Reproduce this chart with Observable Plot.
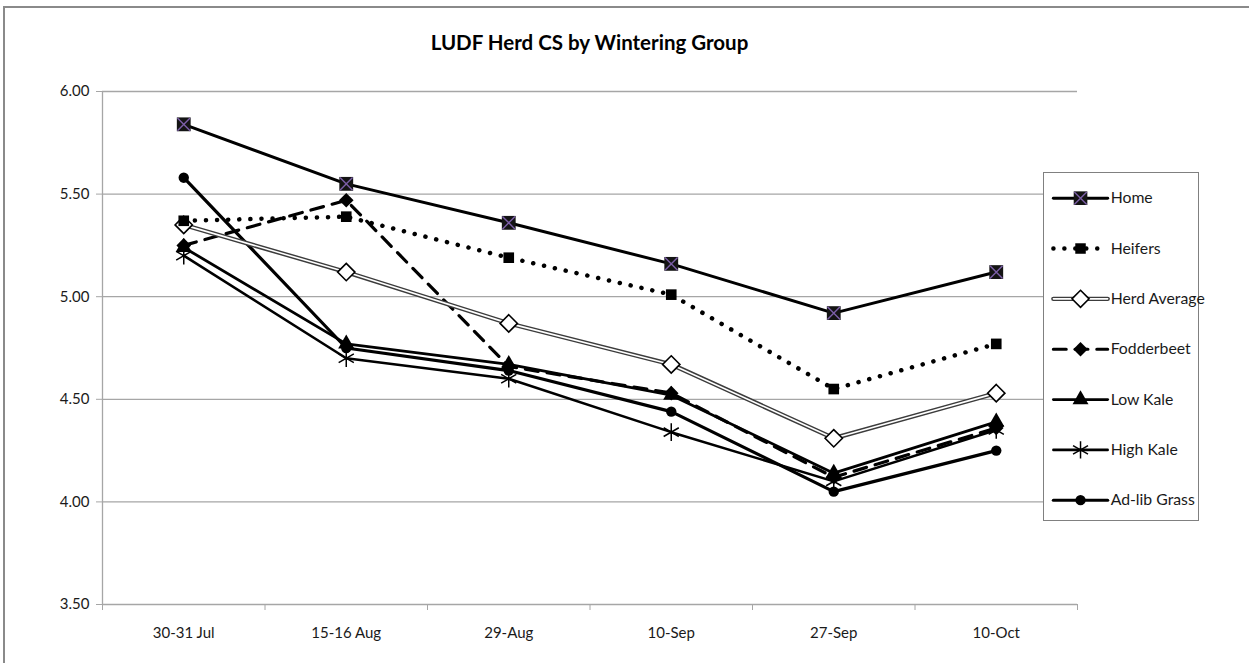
<!DOCTYPE html>
<html>
<head>
<meta charset="utf-8">
<script src="https://cdn.jsdelivr.net/npm/d3@7"></script>
<script src="https://cdn.jsdelivr.net/npm/@observablehq/plot@0.6"></script>
<style>
  html, body { margin: 0; padding: 0; background: #fff; }
  #wrap { position: relative; width: 1249px; height: 663px; overflow: hidden; font-family: Lato, "Open Sans", sans-serif; }
  #frame { position: absolute; left: 3px; top: 6px; width: 1400px; height: 800px; border-left: 2px solid #8a8a8a; border-top: 2px solid #8a8a8a; box-sizing: border-box; }
  #title { position: absolute; left: 0; width: 1179px; top: 30px; text-align: center; font-weight: bold; font-size: 20.5px; color: #000; }
  #chart { position: absolute; left: 0; top: 0; }
  #legend { position: absolute; left: 1043px; top: 172px; width: 156px; height: 349px; border: 1px solid #808080; box-sizing: border-box; background: #fff; }
  #legend svg { overflow: visible; }
</style>
</head>
<body>
<div id="wrap">
  <div id="frame"></div>
  <div id="chart"></div>
  <div id="title">LUDF Herd CS by Wintering Group</div>
  <div id="legend"></div>
</div>
<script>
// ---- data ----
const dates = ["30-31 Jul", "15-16 Aug", "29-Aug", "10-Sep", "27-Sep", "10-Oct"];
const seriesNames = ["Home", "Heifers", "Herd Average", "Fodderbeet", "Low Kale", "High Kale", "Ad-lib Grass"];
const home        = [5.84, 5.55, 5.36, 5.16, 4.92, 5.12];
const heifers     = [5.37, 5.39, 5.19, 5.01, 4.55, 4.77];
const herdAverage = [5.35, 5.12, 4.87, 4.67, 4.31, 4.53];
const fodderbeet  = [5.25, 5.47, 4.66, 4.53, 4.12, 4.36];
const lowKale     = [5.24, 4.77, 4.67, 4.52, 4.14, 4.39];
const highKale    = [5.20, 4.70, 4.60, 4.34, 4.10, 4.35];
const adlibGrass  = [5.58, 4.75, 4.64, 4.44, 4.05, 4.25];
const yTicks = [3.5, 4.0, 4.5, 5.0, 5.5, 6.0];

const seriesValues = {
  "Home": home, "Heifers": heifers, "Herd Average": herdAverage, "Fodderbeet": fodderbeet,
  "Low Kale": lowKale, "High Kale": highKale, "Ad-lib Grass": adlibGrass
};

const rows = seriesNames.flatMap(name => seriesValues[name].map((value, i) => ({series: name, i, date: dates[i], value})));
const idx = dates.map((d, i) => i);
const boundaries = [...idx.map(i => i - 0.5), dates.length - 0.5];

// ---- per-series styling ----
function seriesMarks(name, data, x, y, markerData) {
  const md = markerData || data;
  const k = "#000";
  switch (name) {
    case "Home": return [
      Plot.line(data, {x, y, stroke: k, strokeWidth: 3}),
      Plot.dot(md, {x, y, symbol: "square", r: 7.8, fill: "#141414", stroke: "none"}),
      Plot.dot(md, {x, y, symbol: "times", r: 5.8, stroke: "#7b5ea7", strokeWidth: 1.4})
    ];
    case "Heifers": return [
      Plot.line(data, {x, y, stroke: k, strokeWidth: 4.5, strokeDasharray: "0.1 11", strokeLinecap: "round"}),
      Plot.dot(md, {x, y, symbol: "square", r: 6, fill: k, stroke: "none"})
    ];
    case "Herd Average": return [
      Plot.line(data, {x, y, stroke: "#3c3c3c", strokeWidth: 4.5}),
      Plot.line(data, {x, y, stroke: "#fff", strokeWidth: 1.6}),
      Plot.dot(md, {x, y, symbol: "diamond2", r: 7.8, fill: "#fff", stroke: k, strokeWidth: 1.6})
    ];
    case "Fodderbeet": return [
      Plot.line(data, {x, y, stroke: k, strokeWidth: 3.2, strokeDasharray: "13 9"}),
      Plot.dot(md, {x, y, symbol: "diamond2", r: 6.6, fill: k, stroke: "none"})
    ];
    case "Low Kale": return [
      Plot.line(data, {x, y, stroke: k, strokeWidth: 2.8}),
      Plot.dot(md, {x, y, symbol: "triangle", r: 6, fill: k, stroke: "none"})
    ];
    case "High Kale": return [
      Plot.line(data, {x, y, stroke: k, strokeWidth: 2.6}),
      Plot.dot(md, {x, y, symbol: "asterisk", r: 8.3, stroke: k, strokeWidth: 1.5})
    ];
    case "Ad-lib Grass": return [
      Plot.line(data, {x, y, stroke: k, strokeWidth: 3.2}),
      Plot.dot(md, {x, y, symbol: "circle", r: 5.2, fill: k, stroke: "none"})
    ];
  }
}

// ---- main chart ----
const drawOrder = ["Ad-lib Grass", "High Kale", "Low Kale", "Fodderbeet", "Herd Average", "Heifers", "Home"];
const chart = Plot.plot({
  width: 1249,
  height: 663,
  marginTop: 91,
  marginBottom: 59,
  marginLeft: 102,
  marginRight: 172,
  x: {type: "linear", domain: [-0.5, dates.length - 0.5], axis: null, label: null},
  y: {domain: [3.5, 6.0], axis: null, label: null},
  style: {fontFamily: "Lato, 'Open Sans', sans-serif", fontSize: "15px", color: "#1a1a1a", background: "transparent"},
  marks: [
    Plot.gridY(yTicks, {stroke: "#a6a6a6", strokeOpacity: 1, strokeWidth: 1.3}),
    Plot.ruleX([-0.5], {stroke: "#a6a6a6", strokeWidth: 1.3}),
    Plot.axisY(yTicks, {tickSize: 6, tickPadding: 7, stroke: "#a6a6a6", tickFormat: d => d.toFixed(2), fill: "#1a1a1a", fontSize: 15, label: null}),
    Plot.axisX(boundaries, {tickSize: 6, stroke: "#a6a6a6", tickFormat: () => "", label: null}),
    Plot.axisX(idx, {tickSize: 0, tickPadding: 23, tickFormat: i => dates[i], fill: "#1a1a1a", fontSize: 15, label: null}),
    ...drawOrder.flatMap(name => seriesMarks(name, rows.filter(r => r.series === name), "i", "value"))
  ]
});
document.getElementById("chart").appendChild(chart);

// ---- legend ----
const legendRows = seriesNames.flatMap(name => [{series: name, t: 0}, {series: name, t: 1}]);
const legendMarkers = seriesNames.map(name => ({series: name, t: 0.5}));
const legend = Plot.plot({
  width: 156,
  height: 349,
  marginLeft: 9,
  marginRight: 92,
  marginTop: 0,
  marginBottom: 0,
  x: {domain: [0, 1], axis: null},
  y: {type: "point", domain: seriesNames, range: [23, 333], padding: 0, axis: null},
  style: {fontFamily: "Lato, 'Open Sans', sans-serif", fontSize: "16px", color: "#1a1a1a", background: "transparent", overflow: "visible"},
  marks: [
    ...seriesNames.flatMap(name => seriesMarks(name,
      legendRows.filter(r => r.series === name), "t", "series",
      legendMarkers.filter(r => r.series === name))),
    Plot.text(seriesNames, {x: 1, y: d => d, text: d => d, textAnchor: "start", dx: 3, fill: "#1a1a1a", fontSize: 16})
  ]
});
document.getElementById("legend").appendChild(legend);
</script>
</body>
</html>
